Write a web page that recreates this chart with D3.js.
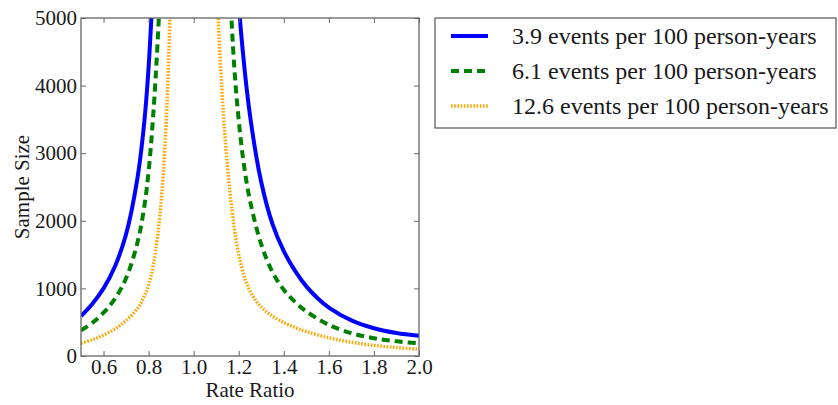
<!DOCTYPE html>
<html>
<head>
<meta charset="utf-8">
<script src="https://cdn.jsdelivr.net/npm/d3@7"></script>
<style>
  body { margin: 0; background: #fff; }
</style>
</head>
<body>
<div class="chart"></div>
<script>
// values; null splits the two branches around RR = 1
var rr39 = [0.50, 0.55, 0.60, 0.65, 0.70, 0.75, 0.78, 0.80, 0.82,
            1.0,
            1.19, 1.21, 1.25, 1.30, 1.35, 1.40, 1.45, 1.50, 1.55, 1.60, 1.70, 1.80, 1.90, 2.00];
var n39  = [590, 770, 1000, 1320, 1800, 2620, 3430, 4270, 5540,
            null,
            5750, 4800, 3560, 2570, 1950, 1550, 1260, 1030, 855, 717, 526, 410, 339, 298];

var rr61 = [0.50, 0.55, 0.60, 0.65, 0.70, 0.75, 0.78, 0.80, 0.82, 0.84, 0.86,
            1.0,
            1.15, 1.17, 1.19, 1.22, 1.25, 1.30, 1.35, 1.40, 1.45, 1.50, 1.60, 1.70, 1.80, 1.90, 2.00];
var n61  = [380, 490, 640, 845, 1150, 1670, 2190, 2730, 3540, 4640, 6100,
            null,
            6500, 4850, 3850, 2900, 2300, 1650, 1240, 980, 800, 660, 460, 338, 263, 217, 188];

var rr126 = [0.50, 0.55, 0.60, 0.65, 0.70, 0.75, 0.78, 0.80, 0.82, 0.84, 0.86, 0.88, 0.89, 0.90,
             1.0,
             1.10, 1.11, 1.125, 1.14, 1.16, 1.18, 1.20, 1.23, 1.26, 1.30, 1.35, 1.40, 1.45, 1.50, 1.60, 1.70, 1.80, 1.90, 2.00];
var n126  = [190, 240, 308, 400, 525, 700, 880, 1050, 1330, 1780, 2450, 3600, 4500, 5700,
             null,
             5800, 4900, 3950, 3200, 2450, 1900, 1500, 1120, 900, 725, 590, 495, 422, 362, 270, 203, 157, 125, 100];

var seriesLabels = ["3.9 events per 100 person-years",
                    "6.1 events per 100 person-years",
                    "12.6 events per 100 person-years"];
var xTicks = [0.6, 0.8, 1.0, 1.2, 1.4, 1.6, 1.8, 2.0];
var yTicks = [0, 1000, 2000, 3000, 4000, 5000];

var W = 838, H = 405;
var margin = {top: 18, right: 419, bottom: 356, left: 81};
var serif = '"Liberation Serif", "Times New Roman", Tinos, "DejaVu Serif", serif';

var x = d3.scaleLinear().domain([0.5, 2.0]).range([margin.left, margin.right]);
var y = d3.scaleLinear().domain([0, 5000]).range([margin.bottom, margin.top]);

var svg = d3.select(".chart").append("svg")
    .attr("width", W)
    .attr("height", H)
    .attr("font-family", serif);

svg.append("rect").attr("width", W).attr("height", H).attr("fill", "#fff");

svg.append("clipPath").attr("id", "plotclip")
  .append("rect")
    .attr("x", margin.left).attr("y", margin.top)
    .attr("width", margin.right - margin.left)
    .attr("height", margin.bottom - margin.top);

var styles = [
  {color: "#0000ff", width: 4, dash: null},
  {color: "#008000", width: 4, dash: "8,5"},
  {color: "#ffa500", width: 3.5, dash: "1.6,1.6"}
];

var series = [[rr39, n39], [rr61, n61], [rr126, n126]].map(function(s) {
  return s[0].map(function(r, i) { return {rr: r, n: s[1][i]}; });
});

var line = d3.line()
    .defined(function(d) { return d.n != null; })
    .curve(d3.curveCatmullRom.alpha(0.5))
    .x(function(d) { return x(d.rr); })
    .y(function(d) { return y(d.n); });

svg.append("g").attr("clip-path", "url(#plotclip)")
  .selectAll(".curve")
  .data(series)
  .enter().append("path")
    .attr("class", "curve")
    .attr("d", line)
    .attr("fill", "none")
    .attr("stroke", function(d, i) { return styles[i].color; })
    .attr("stroke-width", function(d, i) { return styles[i].width; })
    .attr("stroke-dasharray", function(d, i) { return styles[i].dash; });

// axes, ticks pointing inward on all four sides
var axisColor = "#666";

var gx = svg.append("g")
    .attr("transform", "translate(0," + margin.bottom + ")")
    .call(d3.axisBottom(x).tickValues(xTicks).tickFormat(d3.format(".1f"))
          .tickSizeInner(-5).tickSizeOuter(0).tickPadding(3));
var gy = svg.append("g")
    .attr("transform", "translate(" + margin.left + ",0)")
    .call(d3.axisLeft(y).tickValues(yTicks).tickFormat(d3.format("d"))
          .tickSizeInner(-5).tickSizeOuter(0).tickPadding(4));
var gt = svg.append("g")
    .attr("transform", "translate(0," + margin.top + ")")
    .call(d3.axisTop(x).tickValues(xTicks).tickFormat("").tickSizeInner(-5).tickSizeOuter(0));
var gr = svg.append("g")
    .attr("transform", "translate(" + margin.right + ",0)")
    .call(d3.axisRight(y).tickValues(yTicks).tickFormat("").tickSizeInner(-5).tickSizeOuter(0));

[gx, gy, gt, gr].forEach(function(g) {
  g.attr("font-family", serif).attr("font-size", 21);
  g.select(".domain").remove();
  g.selectAll(".tick line").attr("stroke", axisColor);
  g.selectAll(".tick text")
    .style("font-family", serif)
    .style("font-size", "21px")
    .attr("fill", "#1a1a1a");
});

svg.append("rect")
    .attr("x", margin.left).attr("y", margin.top)
    .attr("width", margin.right - margin.left)
    .attr("height", margin.bottom - margin.top)
    .attr("fill", "none")
    .attr("stroke", axisColor)
    .attr("stroke-width", 1.3);

svg.append("text")
    .attr("x", (margin.left + margin.right) / 2)
    .attr("y", 397)
    .attr("text-anchor", "middle")
    .attr("fill", "#1a1a1a")
    .style("font-family", serif)
    .style("font-size", "21px")
    .text("Rate Ratio");

svg.append("text")
    .attr("transform", "translate(22," + (margin.top + margin.bottom) / 2 + ") rotate(-90)")
    .attr("text-anchor", "middle")
    .attr("dy", "0.35em")
    .attr("fill", "#1a1a1a")
    .style("font-family", serif)
    .style("font-size", "21px")
    .text("Sample Size");

// legend
var legend = svg.append("g");
legend.append("rect")
    .attr("x", 435).attr("y", 18)
    .attr("width", 401).attr("height", 110)
    .attr("fill", "#fff")
    .attr("stroke", "#555")
    .attr("stroke-width", 1.2);

var item = legend.selectAll(".item")
    .data(seriesLabels)
  .enter().append("g")
    .attr("class", "item")
    .attr("transform", function(d, i) { return "translate(0," + (36 + i * 35) + ")"; });

item.append("line")
    .attr("x1", 451).attr("x2", 488)
    .attr("stroke", function(d, i) { return styles[i].color; })
    .attr("stroke-width", function(d, i) { return styles[i].width; })
    .attr("stroke-dasharray", function(d, i) { return styles[i].dash; });

item.append("text")
    .attr("x", 512)
    .attr("dy", "0.35em")
    .attr("fill", "#1a1a1a")
    .style("font-family", serif)
    .style("font-size", "24px")
    .text(function(d) { return d; });
</script>
</body>
</html>
